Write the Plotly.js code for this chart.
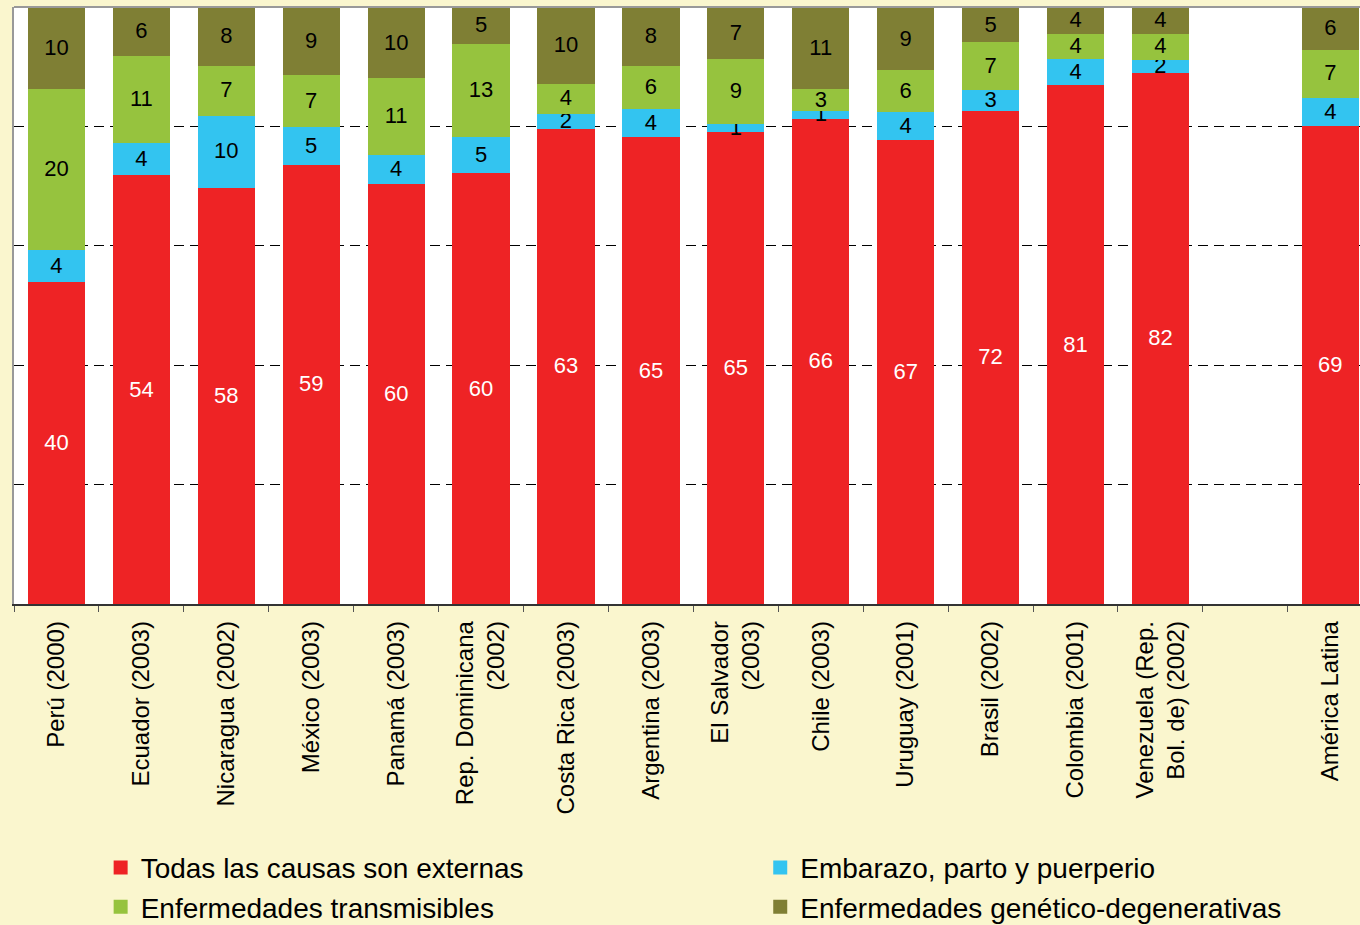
<!DOCTYPE html>
<html>
<head>
<meta charset="utf-8">
<script src="https://cdn.plot.ly/plotly-3.0.1.min.js"></script>
<style>
html, body { margin: 0; padding: 0; overflow: hidden; background: #FAF6CE; }
#chart { width: 1360px; height: 925px; }
</style>
</head>
<body>
<div id="chart"></div>
<script>
const categories = [
  "Perú (2000)", "Ecuador (2003)", "Nicaragua (2002)", "México (2003)", "Panamá (2003)",
  "Rep. Dominicana<br>(2002)", "Costa Rica (2003)", "Argentina (2003)", "El Salvador<br>(2003)",
  "Chile (2003)", "Uruguay (2001)", "Brasil (2002)", "Colombia (2001)",
  "Venezuela (Rep.<br>Bol. de) (2002)", " ", "América Latina"
];
const externas      = [40, 54, 58, 59, 60, 60, 63, 65, 65, 66, 67, 72, 81, 82, null, 69];
const embarazo      = [4, 4, 10, 5, 4, 5, 2, 4, 1, 1, 4, 3, 4, 2, null, 4];
const transmisibles = [20, 11, 7, 7, 11, 13, 4, 6, 9, 3, 6, 7, 4, 4, null, 7];
const geneticas     = [10, 6, 8, 9, 10, 5, 10, 8, 7, 11, 9, 5, 4, 4, null, 6];

const seriesNames = [
  "Todas las causas son externas",
  "Embarazo, parto y puerperio",
  "Enfermedades transmisibles",
  "Enfermedades genético-degenerativas"
];
const seriesValues = [externas, embarazo, transmisibles, geneticas];
const colors = ["#EE2325", "#33C4F0", "#96C33E", "#7F7F34"];
const textColors = ["#FFFFFF", "#000000", "#000000", "#000000"];
const legendIds = ["legend", "legend2", "legend", "legend2"];

const FONT = "'Liberation Sans', Arial, Helvetica, sans-serif";

const traces = seriesValues.map((vals, i) => ({
  type: "bar",
  name: seriesNames[i],
  legend: legendIds[i],
  x: categories,
  y: vals,
  text: vals.map(v => v === null ? "" : String(v)),
  textposition: "inside",
  insidetextanchor: "middle",
  constraintext: "none",
  textangle: 0,
  insidetextfont: { family: FONT, size: 22, color: textColors[i] },
  marker: { color: colors[i], line: { width: 2, color: colors[i] } },
  hoverinfo: "x+y+name"
}));

const legendCommon = {
  orientation: "v",
  xref: "container", yref: "container",
  xanchor: "left", yanchor: "top",
  font: { family: FONT, size: 28, color: "#000" },
  bgcolor: "rgba(0,0,0,0)",
  traceorder: "normal",
  tracegroupgap: 0
};

const layout = {
  width: 1360,
  height: 925,
  paper_bgcolor: "#FAF6CE",
  plot_bgcolor: "#FFFFFF",
  barmode: "stack",
  barnorm: "percent",
  bargap: 0.35,
  margin: { l: 14, r: 0, t: 7, b: 321, autoexpand: false },
  font: { family: FONT, color: "#000" },
  xaxis: {
    type: "category",
    range: [-0.5, 15.35],
    tickangle: -90,
    tickfont: { family: FONT, size: 24, color: "#000" },
    ticks: "outside",
    tickson: "boundaries",
    ticklen: 6,
    tickcolor: "#555",
    ticklabelstandoff: 6,
    showline: true,
    linecolor: "#333",
    linewidth: 1.5,
    showgrid: false,
    automargin: false,
    fixedrange: true
  },
  yaxis: {
    range: [0, 100],
    showticklabels: false,
    ticks: "",
    dtick: 20,
    showgrid: true,
    gridcolor: "#000",
    gridwidth: 1,
    griddash: "10px,6px",
    zeroline: false,
    showline: true,
    linecolor: "#999",
    linewidth: 2,
    automargin: false,
    fixedrange: true
  },
  shapes: [{
    type: "line", xref: "paper", yref: "paper",
    x0: 0, x1: 1, y0: 1, y1: 1,
    line: { color: "#999", width: 2 }
  }],
  showlegend: true,
  legend: Object.assign({}, legendCommon, { x: 0.074, y: 0.089 }),
  legend2: Object.assign({}, legendCommon, { x: 0.559, y: 0.089 })
};

Plotly.newPlot("chart", traces, layout, { displayModeBar: false, staticPlot: true });
</script>
</body>
</html>
